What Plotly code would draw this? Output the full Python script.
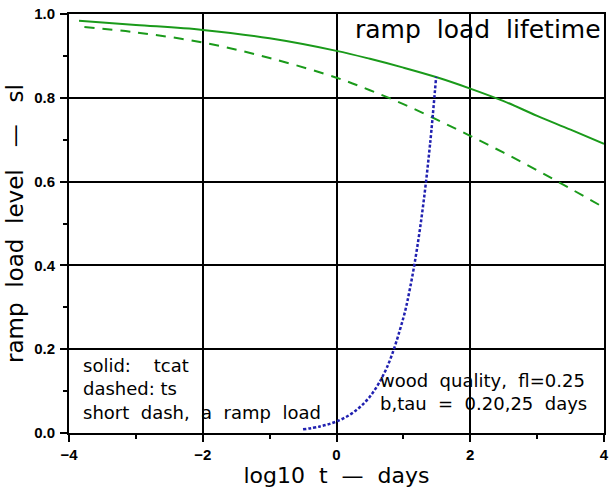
import plotly.graph_objects as go

# Solid curve (tcat)
solid_x = [-3.85, -3, -2, -1, 0, 0.5, 1, 1.5, 2, 2.5, 3, 3.5, 4]
solid_y = [0.984, 0.974, 0.962, 0.942, 0.912, 0.893, 0.872, 0.849, 0.822, 0.792, 0.757, 0.724, 0.690]

# Dashed curve (ts)
dashed_x = [-3.77, -3, -2, -1, 0, 0.5, 1, 1.5, 2, 2.5, 3, 3.5, 4]
dashed_y = [0.969, 0.956, 0.932, 0.895, 0.848, 0.818, 0.785, 0.748, 0.709, 0.669, 0.627, 0.583, 0.538]

# Short dash: ramp load
ramp_x = [-0.5, -0.25, 0, 0.25, 0.5, 0.75, 1.0, 1.1, 1.2, 1.3, 1.4, 1.49]
ramp_y = [0.0087, 0.0155, 0.0275, 0.049, 0.087, 0.155, 0.275, 0.346, 0.436, 0.549, 0.691, 0.85]

x_ticks = [-4, -2, 0, 2, 4]
x_tick_text = ["\u22124", "\u22122", "0", "2", "4"]
y_ticks = [0.0, 0.2, 0.4, 0.6, 0.8, 1.0]

FONT = "DejaVu Sans"
TICKFONT = "Liberation Sans"
NB = "\u00a0"

fig = go.Figure()
fig.add_trace(go.Scatter(x=solid_x, y=solid_y, mode="lines", line=dict(color="#1a9a1a", width=2), line_shape="spline"))
fig.add_trace(go.Scatter(x=dashed_x, y=dashed_y, mode="lines", line=dict(color="#1a9a1a", width=2, dash="10px,8px"), line_shape="spline"))
fig.add_trace(go.Scatter(x=ramp_x, y=ramp_y, mode="lines", line=dict(color="#2020b0", width=2.5, dash="3px,2px"), line_shape="spline"))

axis_common = dict(
    showline=True, linecolor="black", linewidth=2, mirror=True,
    showgrid=True, gridcolor="black", gridwidth=2,
    ticks="outside", ticklen=7, tickwidth=2, tickcolor="black",
    zeroline=False, ticklabeloverflow="allow",
    tickfont=dict(family=TICKFONT, size=15, color="black", weight="bold"),
)

fig.update_xaxes(range=[-4, 4], tickvals=x_ticks, ticktext=x_tick_text,
                 minor=dict(dtick=1, ticks="outside", ticklen=4, tickwidth=2, tickcolor="black", showgrid=False),
                 title=dict(text="log10" + NB * 2 + "t" + NB * 2 + "\u2014" + NB * 2 + "days",
                            font=dict(family=FONT, size=22, color="black"), standoff=4),
                 **axis_common)
fig.update_yaxes(range=[0, 1], tickvals=y_ticks, tickformat=".1f", ticklabelstandoff=2,
                 minor=dict(dtick=0.1, ticks="outside", ticklen=4, tickwidth=2, tickcolor="black", showgrid=False),
                 title=dict(text="ramp" + NB * 2 + "load" + NB * 2 + "level" + NB * 3 + "\u2014" + NB * 3 + "sl",
                            font=dict(family=FONT, size=23, color="black"), standoff=4),
                 **axis_common)

ann_font = dict(family=FONT, size=18, color="black")
fig.add_annotation(x=0.998, y=0.962, xref="paper", yref="paper", xanchor="right", yanchor="middle",
                   text="ramp" + NB * 2 + "load" + NB * 2 + "lifetime", showarrow=False,
                   font=dict(family=FONT, size=25, color="black"))
fig.add_annotation(x=0.023, y=0.104, xref="paper", yref="paper", xanchor="left", yanchor="middle",
                   text="solid:" + NB * 4 + "tcat<br>dashed:" + NB + "ts<br>short" + NB * 2 + "dash," + NB * 2 + "a" + NB * 2 + "ramp" + NB * 2 + "load",
                   showarrow=False, align="left", font=ann_font)
fig.add_annotation(x=0.577, y=0.098, xref="paper", yref="paper", xanchor="left", yanchor="middle",
                   text="wood" + NB * 2 + "quality," + NB * 2 + "fl=0.25<br>b,tau" + NB * 2 + "=" + NB * 2 + "0.20,25" + NB * 2 + "days",
                   showarrow=False, align="left", font=ann_font)

fig.update_layout(
    width=611, height=488,
    margin=dict(l=69, r=2, t=14, b=55),
    paper_bgcolor="white", plot_bgcolor="white",
    showlegend=False,
    font=dict(family=FONT, color="black"),
)

fig.write_html("out.html")
